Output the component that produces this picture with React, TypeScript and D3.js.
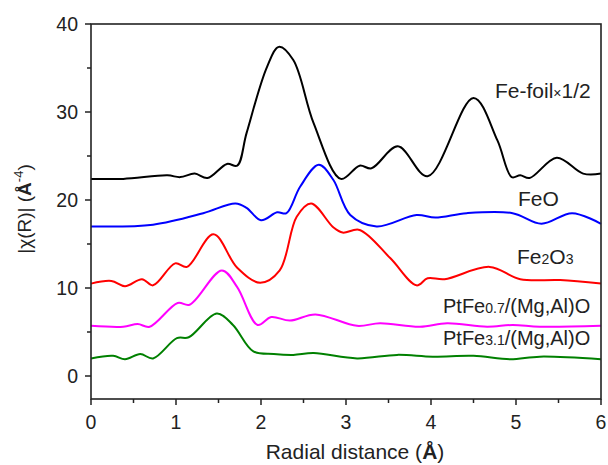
import React from "react";
import * as d3 from "d3";

const feFoilR = [0, 0.38, 0.9, 1.05, 1.22, 1.37, 1.6, 1.72, 1.83, 2.07, 2.21, 2.38, 2.62, 2.94, 3.16, 3.3, 3.61, 3.96, 4.5, 4.78, 4.95, 5.05, 5.16, 5.48, 5.79, 6.0];
const feFoilV = [22.4, 22.4, 22.8, 22.6, 23.0, 22.5, 24.1, 23.9, 27.6, 35.1, 37.4, 35.9, 28.7, 22.4, 23.9, 23.6, 26.1, 22.7, 31.6, 26.8, 22.6, 22.8, 22.5, 24.8, 23.0, 23.0];

const feoR = [0, 0.73, 1.32, 1.7, 1.83, 2.0, 2.19, 2.3, 2.46, 2.68, 2.85, 3.05, 3.36, 3.83, 4.05, 4.42, 4.96, 5.3, 5.66, 6.0];
const feoV = [17.0, 17.2, 18.5, 19.6, 19.1, 17.7, 18.6, 18.5, 21.5, 24.0, 22.3, 18.3, 17.0, 18.3, 18.0, 18.5, 18.5, 17.3, 18.5, 17.3];

const fe2o3R = [0, 0.24, 0.4, 0.6, 0.73, 0.99, 1.13, 1.44, 1.72, 1.99, 2.22, 2.42, 2.59, 2.85, 2.96, 3.16, 3.52, 3.83, 3.96, 4.16, 4.69, 5.05, 5.52, 6.0];
const fe2o3V = [10.5, 10.8, 10.2, 11.0, 10.3, 12.8, 12.4, 16.1, 12.3, 10.6, 12.0, 18.1, 19.6, 16.9, 16.3, 16.6, 13.4, 10.3, 11.1, 11.0, 12.4, 11.0, 10.9, 10.5];

const pt07R = [0, 0.38, 0.55, 0.69, 1.02, 1.16, 1.54, 1.72, 1.96, 2.12, 2.34, 2.64, 3.13, 3.4, 3.87, 4.19, 4.66, 4.96, 5.28, 6.0];
const pt07V = [5.7, 5.6, 5.9, 5.6, 8.3, 8.1, 12.0, 10.1, 5.8, 6.7, 6.3, 7.0, 5.7, 6.0, 5.6, 6.0, 5.6, 5.8, 5.6, 5.7];

const pt31R = [0, 0.26, 0.4, 0.58, 0.73, 1.01, 1.15, 1.48, 1.67, 1.91, 2.15, 2.38, 2.62, 3.13, 3.6, 4.02, 4.5, 4.93, 5.28, 6.0];
const pt31V = [2.0, 2.3, 1.9, 2.5, 2.0, 4.3, 4.4, 7.1, 5.8, 2.8, 2.5, 2.4, 2.6, 2.0, 2.4, 2.2, 2.3, 1.9, 2.2, 1.9];

const xTicks = [0, 1, 2, 3, 4, 5, 6];
const yTicks = [0, 10, 20, 30, 40];

const seriesList = [
  { r: feFoilR, v: feFoilV, color: "#000000" },
  { r: feoR, v: feoV, color: "#0000ff" },
  { r: fe2o3R, v: fe2o3V, color: "#ff0000" },
  { r: pt07R, v: pt07V, color: "#ff00ff" },
  { r: pt31R, v: pt31V, color: "#008000" },
];

const FONT = "'Liberation Sans', Arial, sans-serif";

export default function App() {
  const left = 91, right = 601, top = 24, bottom = 399;
  const x = d3.scaleLinear().domain([0, 6]).range([left, right]);
  const y = d3.scaleLinear().domain([0, 40]).range([376, 24]);
  const line = d3
    .line<[number, number]>()
    .x((d) => x(d[0]))
    .y((d) => y(d[1]))
    .curve(d3.curveCatmullRom.alpha(0.5));

  const xMinor = d3.range(0, 6.01, 0.5);
  const yMinor = d3.range(0, 40.01, 5);

  return (
    <svg
      width={608}
      height={465}
      style={{ position: "absolute", left: 0, top: 0, background: "#fff" }}
      fontFamily={FONT}
    >
      <rect x={0} y={0} width={608} height={465} fill="#fff" />
      {seriesList.map((s, i) => (
        <path
          key={i}
          d={line(s.r.map((r, j) => [r, s.v[j]] as [number, number])) || ""}
          fill="none"
          stroke={s.color}
          strokeWidth={2}
        />
      ))}
      {/* frame */}
      <rect x={left} y={top} width={right - left} height={bottom - top} fill="none" stroke="#222" strokeWidth={1.6} />
      {/* x ticks */}
      {xMinor.map((t, i) => (
        <line key={"xm" + i} x1={x(t)} x2={x(t)} y1={bottom} y2={bottom + (Number.isInteger(t) ? 6 : 4)} stroke="#222" strokeWidth={1.5} />
      ))}
      {xTicks.map((t) => (
        <text key={"xt" + t} x={x(t)} y={429} textAnchor="middle" fontSize={19.5} fill="#222">
          {t}
        </text>
      ))}
      {/* y ticks */}
      {yMinor.map((t, i) => (
        <line key={"ym" + i} x1={left} x2={left - (t % 10 === 0 ? 6 : 4)} y1={y(t)} y2={y(t)} stroke="#222" strokeWidth={1.5} />
      ))}
      {yTicks.map((t) => (
        <text key={"yt" + t} x={78} y={y(t) + 7} textAnchor="end" fontSize={19.5} fill="#222">
          {t}
        </text>
      ))}
      {/* axis titles */}
      <text x={355} y={459} textAnchor="middle" fontSize={21} fill="#222">
        Radial distance (<tspan fontWeight="bold">Å</tspan>)
      </text>
      <text transform="translate(31,209) rotate(-90)" textAnchor="middle" fontSize={19} fill="#222">
        |χ(R)| (<tspan fontWeight="bold">Å</tspan>
        <tspan fontSize={13} dy={-8}>-4</tspan>
        <tspan dy={8}>)</tspan>
      </text>
      {/* series labels */}
      <text x={495} y={98} fontSize={21} fill="#222">
        Fe-foil<tspan fontSize={14}>×</tspan>1/2
      </text>
      <text x={518} y={206} fontSize={21} fill="#222">
        FeO
      </text>
      <text x={517} y={264} fontSize={21} fill="#222">
        Fe<tspan fontSize={14}>2</tspan>O<tspan fontSize={14}>3</tspan>
      </text>
      <text x={443} y={313} fontSize={20} fill="#222">
        PtFe<tspan fontSize={14}>0.7</tspan>/(Mg,Al)O
      </text>
      <text x={443} y={345} fontSize={20} fill="#222">
        PtFe<tspan fontSize={14}>3.1</tspan>/(Mg,Al)O
      </text>
    </svg>
  );
}
